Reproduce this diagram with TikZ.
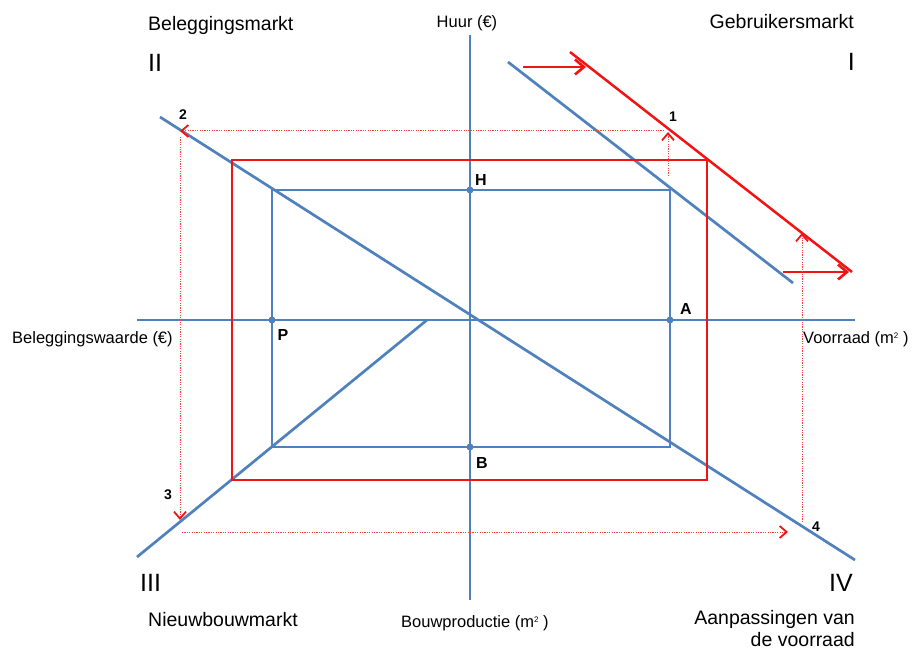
\documentclass[tikz,border=0pt]{standalone}
\usepackage{fontspec}
\setmainfont{Liberation Sans}
\usetikzlibrary{arrows.meta, calc}
\definecolor{axisblue}{RGB}{79,129,189}
\definecolor{shiftred}{RGB}{240,20,20}
\newcommand{\sqm}{m\raisebox{0.55ex}{\fontsize{8}{8}\selectfont 2}}

\begin{document}
\begin{tikzpicture}[x=1pt, y=-1pt,
  axis/.style={axisblue, line width=2.7pt},
  frame/.style={axisblue, line width=1.4pt},
  redframe/.style={shiftred, line width=2.5pt},
  bigarrow/.style={shiftred, line width=2.7pt, -{Straight Barb[length=9pt,width=15pt,line width=2.6pt]}},
  trace/.style={shiftred!80, line width=1pt, dash pattern=on 1.2pt off 1.2pt, -{Straight Barb[length=7pt,width=12pt,line width=1.8pt,shiftred]}},
  market/.style={font=\fontsize{19.5}{23}\selectfont, inner sep=0pt},
  quadrant/.style={font=\fontsize{25}{28}\selectfont, inner sep=0pt},
  axislabel/.style={font=\fontsize{16.5}{19}\selectfont, inner sep=0pt},
  step label/.style={font=\fontsize{14}{16}\selectfont\bfseries, inner sep=0pt},
  point label/.style={font=\fontsize{16}{18}\selectfont\bfseries, inner sep=0pt},
  dot/.style={circle, fill=axisblue, inner sep=0pt, minimum size=7pt}]
  \useasboundingbox (0,0) rectangle (916,650);

  % axes
  \coordinate (top) at (470,35);
  \coordinate (bottom) at (470,600);
  \coordinate (left) at (137,320);
  \coordinate (right) at (855,320);
  \draw[axis] (top) -- (bottom);
  \draw[axis] (left) -- (right);

  % market lines
  \draw[axis] (160,117) -- (855,560);
  \draw[axis] (137,557) -- (427,320);
  \draw[axis] (508,62) -- (793,283);
  \draw[redframe] (570,52) -- (852,272);

  % equilibrium
  \draw[frame] (272,190) rectangle (670,447);
  \draw[redframe] (232,160) rectangle (707,480);

  % shift of demand
  \draw[bigarrow] (523,67) -- (586,67);
  \draw[bigarrow] (783,272) -- (849,272);

  % adjustment path
  \draw[trace] (668,176) -- (668,132);
  \draw[trace] (664,131) -- (180,131);
  \draw[trace] (180,137) -- (180,520);
  \draw[trace] (182,532) -- (788,532);
  \draw[trace] (802,522) -- (802,233);

  \node[step label] (s1) at (673,117) {1};
  \node[step label] (s2) at (183,115) {2};
  \node[step label] (s3) at (168,495) {3};
  \node[step label] (s4) at (816,527) {4};

  % points
  \node[dot] (H) at (470,190) {};
  \node[dot] (A) at (670,320) {};
  \node[dot] (P) at (272,320) {};
  \node[dot] (B) at (470,447) {};
  \node[point label] at (481,180) {H};
  \node[point label] at (686,309) {A};
  \node[point label] at (283,335) {P};
  \node[point label] at (482,463) {B};

  % axis labels
  \node[axislabel, anchor=base] (huur) at (467,28) {Huur (€)};
  \node[axislabel, anchor=base west] (waarde) at (12,343) {Beleggingswaarde (€)};
  \node[axislabel, anchor=base west] (voorraad) at (803,343) {Voorraad (\sqm\ )};
  \node[axislabel, anchor=base west] (bouw) at (401,627) {Bouwproductie (\sqm\ )};

  % quadrants
  \node[market, anchor=base west] (q2) at (148,31) {Beleggingsmarkt};
  \node[market, anchor=base east] (q1) at (854,29) {Gebruikersmarkt};
  \node[market, anchor=base west] (q3) at (148,626) {Nieuwbouwmarkt};
  \node[market, anchor=base east] (q4) at (855,624) {Aanpassingen van};
  \node[market, anchor=base east] (q4b) at (855,646) {de voorraad};
  \node[quadrant, anchor=base west] at (148,72) {II};
  \node[quadrant, anchor=base east] at (855,71) {I};
  \node[quadrant, anchor=base west] at (140,591) {III};
  \node[quadrant, anchor=base east] at (853,591) {IV};
\end{tikzpicture}
\end{document}
